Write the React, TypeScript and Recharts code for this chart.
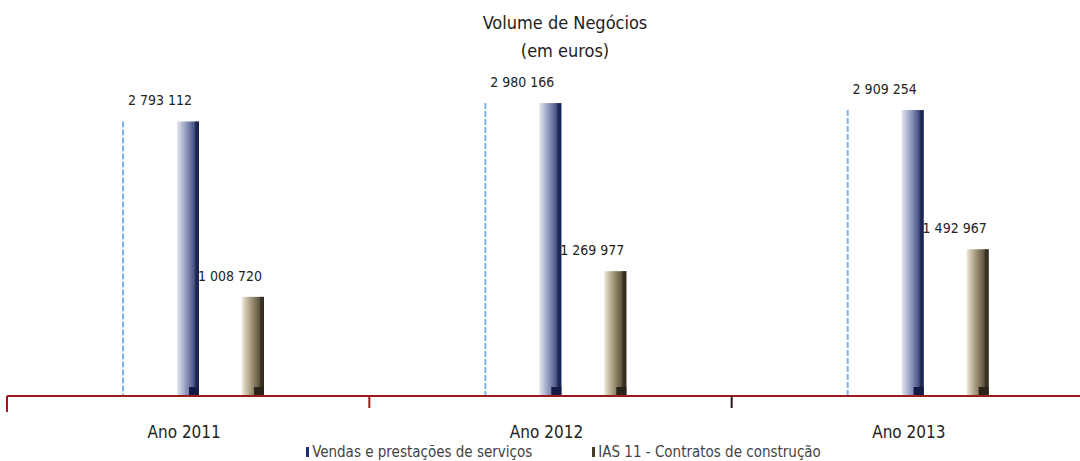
import React from 'react';
import { BarChart, Bar, XAxis, YAxis, LabelList, Legend } from 'recharts';

const anos = ['Ano 2011', 'Ano 2012', 'Ano 2013'];
const vendas = [2793112, 2980166, 2909254];
const contratos = [1008720, 1269977, 1492967];

const data = anos.map((ano, i) => ({
    ano,
    reflexo: vendas[i],
    vendas: vendas[i],
    contratos: contratos[i],
}));

const FONT = '"DejaVu Sans Condensed", "Liberation Sans Narrow", "Liberation Sans", Arial, sans-serif';
const CHART_W = 1100;
const MARGIN = { top: 52, right: 6, left: 7, bottom: 5 };
const BAND = (CHART_W - MARGIN.left - MARGIN.right) / anos.length;

const fmt = (v: number) => v.toString().replace(/\B(?=(\d{3})+(?!\d))/g, ' ');

// thin dashed light-blue reflection next to the sales bar
const GhostShape = (props: any) => {
    const { x, y, width, height } = props;
    const cx = x + width / 2;
    return (
        <line
            x1={cx}
            x2={cx}
            y1={y}
            y2={y + height}
            stroke="#78b6ec"
            strokeWidth={2}
            strokeDasharray="6 2"
        />
    );
};

const makeBarShape = (grad: string, base: string) => (props: any) => {
    const { x, y, width, height } = props;
    return (
        <g>
            <rect x={x} y={y} width={width} height={height} fill={`url(#${grad})`} />
            <rect x={x + width - 4} y={y} width={4} height={height} fill={base} opacity={0.6} />
            <rect x={x + width - 10} y={y + height - 9} width={10} height={9} fill={base} />
        </g>
    );
};

const VendasShape = makeBarShape('gVendas', '#141c45');
const ContratosShape = makeBarShape('gContratos', '#2b2418');

const makeValueLabel = (shift: number) => (props: any) => {
    const { x, y, width, value } = props;
    return (
        <text
            x={x + width / 2 + shift}
            y={y - 16}
            textAnchor="middle"
            fontSize={14}
            fontFamily={FONT}
            fill="#222"
        >
            {fmt(value)}
        </text>
    );
};

const VendasLabel = makeValueLabel(-28);
const ContratosLabel = makeValueLabel(-23);

const AnoTick = (props: any) => {
    const { x, y, payload, index } = props;
    const left = x - BAND / 2;
    return (
        <g>
            <line
                x1={left}
                x2={left}
                y1={y - 8}
                y2={y + (index === 0 ? 8 : 4)}
                stroke={index === 2 ? '#2a1a1a' : '#a01818'}
                strokeWidth={2}
            />
            <text
                x={x - 4}
                y={y + 34}
                textAnchor="middle"
                fontSize={17}
                fontFamily={FONT}
                fill="#222"
            >
                {payload.value}
            </text>
        </g>
    );
};

const legendItems = [
    { label: 'Vendas e prestações de serviços', color: '#1f2c72' },
    { label: 'IAS 11 - Contratos de construção', color: '#4a3e2a' },
];

const LegendContent = () => (
    <div
        style={{
            display: 'flex',
            justifyContent: 'center',
            gap: 60,
            paddingLeft: 26,
            paddingTop: 7,
            fontFamily: FONT,
            fontSize: 15,
            color: '#444',
        }}
    >
        {legendItems.map((item) => (
            <span key={item.label} style={{ display: 'flex', alignItems: 'center', gap: 3 }}>
                <span style={{ display: 'inline-block', width: 3, height: 10, background: item.color }} />
                {item.label}
            </span>
        ))}
    </div>
);

export default function App() {
    return (
        <div
            style={{
                position: 'fixed',
                top: 0,
                left: 0,
                width: 1080,
                height: 461,
                overflow: 'hidden',
                background: '#fff',
            }}
        >
            <div
                style={{
                    position: 'absolute',
                    top: 9,
                    left: 0,
                    width: 1130,
                    textAlign: 'center',
                    fontFamily: FONT,
                    fontSize: 18,
                    lineHeight: '28px',
                    color: '#222',
                }}
            >
                Volume de Negócios
                <br />
                (em euros)
            </div>
            <BarChart
                width={CHART_W}
                height={461}
                data={data}
                margin={MARGIN}
                barSize={22}
                barGap={43}
                style={{ position: 'absolute', top: 0, left: 0 }}
            >
                <defs>
                    <linearGradient id="gVendas" x1="0" y1="0" x2="1" y2="0">
                        <stop offset="0%" stopColor="#e4e7f1" />
                        <stop offset="45%" stopColor="#8a93b8" />
                        <stop offset="100%" stopColor="#1a275f" />
                    </linearGradient>
                    <linearGradient id="gContratos" x1="0" y1="0" x2="1" y2="0">
                        <stop offset="0%" stopColor="#eee8d8" />
                        <stop offset="45%" stopColor="#9c8f72" />
                        <stop offset="100%" stopColor="#3a3122" />
                    </linearGradient>
                </defs>
                <XAxis
                    dataKey="ano"
                    height={40}
                    tickLine={false}
                    axisLine={{ stroke: '#9a1b1b', strokeWidth: 2 }}
                    tick={<AnoTick />}
                    interval={0}
                />
                <YAxis hide domain={[0, 3500000]} />
                <Legend verticalAlign="bottom" height={20} content={<LegendContent />} />
                <Bar
                    dataKey="reflexo"
                    legendType="none"
                    shape={<GhostShape />}
                    isAnimationActive={false}
                />
                <Bar
                    dataKey="vendas"
                    name="Vendas e prestações de serviços"
                    shape={<VendasShape />}
                    isAnimationActive={false}
                >
                    <LabelList dataKey="vendas" content={<VendasLabel />} />
                </Bar>
                <Bar
                    dataKey="contratos"
                    name="IAS 11 - Contratos de construção"
                    shape={<ContratosShape />}
                    isAnimationActive={false}
                >
                    <LabelList dataKey="contratos" content={<ContratosLabel />} />
                </Bar>
            </BarChart>
        </div>
    );
}
